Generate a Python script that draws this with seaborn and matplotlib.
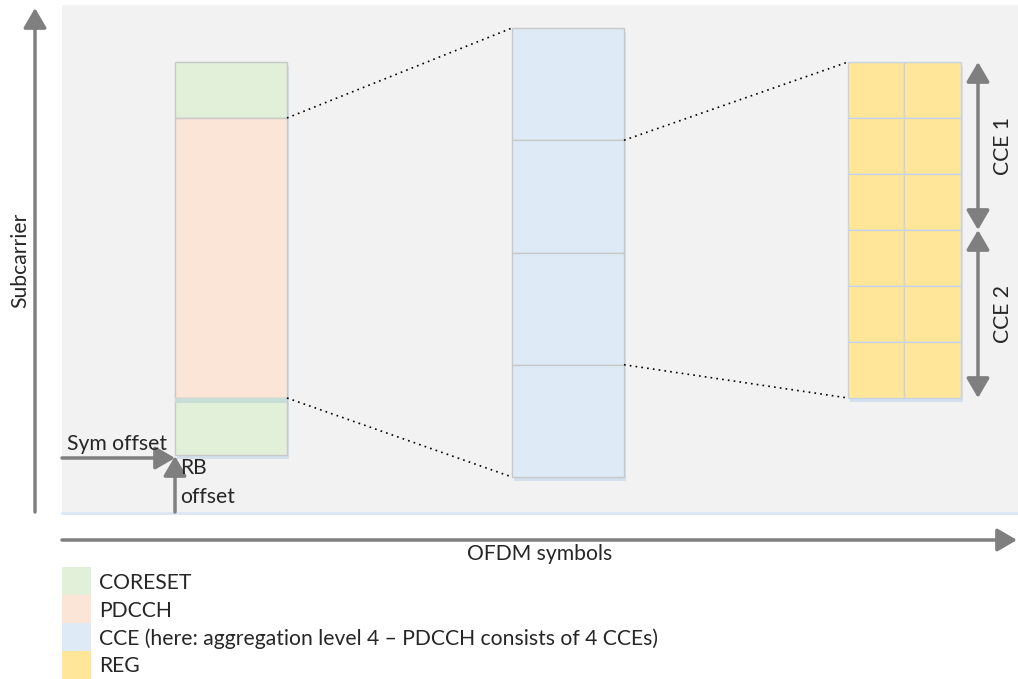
import numpy as np
import matplotlib.pyplot as plt
import seaborn as sns
from matplotlib.patches import Rectangle

sns.set_style("white")
plt.rcParams['font.family'] = ['Lato', 'DejaVu Sans']

# legend entries
legend_labels = ['CORESET', 'PDCCH',
                 'CCE (here: aggregation level 4 \u2013 PDCCH consists of 4 CCEs)', 'REG']
legend_colors = ['#e2efd9', '#fbe5d6', '#deebf7', '#ffe699']

# structure of the blocks
coreset_parts = ['CORESET', 'PDCCH', 'CORESET']
coreset_heights = [56, 280, 57]      # top green, pdcch, bottom green (px)
n_cce = 4
reg_rows = 6
reg_cols = 2
cce_labels = ['CCE 1', 'CCE 2']

gray = '#7f7f7f'
edge = '#c8c8c8'
shadow = '#d3dfec'
fs = 15.2

fig = plt.figure(figsize=(10.18, 6.79), dpi=100)
ax = fig.add_axes([0, 0, 1, 1])
ax.set_xlim(0, 1018)
ax.set_ylim(679, 0)
ax.axis('off')

# background panel
ax.add_patch(Rectangle((62, 5), 960, 507, facecolor='#f2f2f2', edgecolor='none'))
ax.plot([62, 1018], [512.5, 512.5], color='#dae6f3', lw=2)

# left column: CORESET with PDCCH
col_colors = {'CORESET': legend_colors[0], 'PDCCH': legend_colors[1]}
lx, lw_ = 175, 112
y = 62
ax.add_patch(Rectangle((lx + 2, 66), lw_, sum(coreset_heights), facecolor=shadow, edgecolor='none'))
for part, h in zip(coreset_parts, coreset_heights):
    ax.add_patch(Rectangle((lx, y), lw_, h, facecolor=col_colors[part], edgecolor=edge, lw=1.0))
    y += h
ax.add_patch(Rectangle((lx, 398), lw_, 5, facecolor='#c6ded6', edgecolor='none'))

# middle column: CCEs
mx, mw, mtop, mh = 512, 112, 28, 449
ax.add_patch(Rectangle((mx + 2, mtop + 4), mw, mh, facecolor=shadow, edgecolor='none'))
for i in range(n_cce):
    ax.add_patch(Rectangle((mx, mtop + i * mh / n_cce), mw, mh / n_cce,
                           facecolor=legend_colors[2], edgecolor=edge, lw=1.0))

# right column: REGs
rx, rw, rtop, rh = 848, 113, 62, 336
ax.add_patch(Rectangle((rx + 2, rtop + 4), rw, rh, facecolor=shadow, edgecolor='none'))
for r in range(reg_rows):
    for c in range(reg_cols):
        ax.add_patch(Rectangle((rx + c * rw / reg_cols, rtop + r * rh / reg_rows),
                               rw / reg_cols, rh / reg_rows,
                               facecolor=legend_colors[3], edgecolor='#c5d5e6', lw=1.0))

# dotted zoom lines
dot = dict(color='black', lw=1.2, linestyle=(0, (1, 2.5)))
ax.plot([lx + lw_, mx], [118, mtop], **dot)
ax.plot([lx + lw_, mx], [398, mtop + mh], **dot)
ax.plot([mx + mw, rx], [mtop + mh / n_cce, rtop], **dot)
ax.plot([mx + mw, rx], [mtop + 3 * mh / n_cce, rtop + rh], **dot)

head = '-|>,head_length=0.6,head_width=0.35'
arrow = dict(arrowstyle=head, color=gray, lw=2.5, mutation_scale=20,
             shrinkA=0, shrinkB=0)

# axes arrows
ax.annotate('', xy=(35, 8), xytext=(35, 512), arrowprops=arrow)
ax.annotate('', xy=(1017, 540), xytext=(62, 540), arrowprops=arrow)
ax.text(20, 260, 'Subcarrier', rotation=90, ha='center', va='center', fontsize=fs)
ax.text(540, 554, 'OFDM symbols', ha='center', va='center', fontsize=fs)

# offsets
ax.annotate('', xy=(175, 458), xytext=(62, 458), arrowprops=arrow)
ax.annotate('', xy=(175, 456), xytext=(175, 512), arrowprops=arrow)
ax.text(67, 444, 'Sym offset', ha='left', va='center', fontsize=fs)
ax.text(180, 468, 'RB', ha='left', va='center', fontsize=fs)
ax.text(180, 497, 'offset', ha='left', va='center', fontsize=fs)

# CCE double arrows
darrow = dict(arrowstyle='<|-|>,head_length=0.6,head_width=0.35', color=gray, lw=2.5,
              mutation_scale=20, shrinkA=0, shrinkB=0)
cce_h = rh / len(cce_labels)
for i, lab in enumerate(cce_labels):
    y0 = rtop + i * cce_h
    ax.annotate('', xy=(978, y0), xytext=(978, y0 + cce_h), arrowprops=darrow)
    ax.text(1003, y0 + cce_h / 2, lab, rotation=90, ha='center', va='center', fontsize=fs)

# legend
for i, (lab, col) in enumerate(zip(legend_labels, legend_colors)):
    ax.add_patch(Rectangle((62, 567 + i * 28), 29, 28, facecolor=col, edgecolor='none'))
    ax.text(99, 583 + i * 27.7, lab, ha='left', va='center', fontsize=fs)

fig.savefig('out.png', dpi=100)
